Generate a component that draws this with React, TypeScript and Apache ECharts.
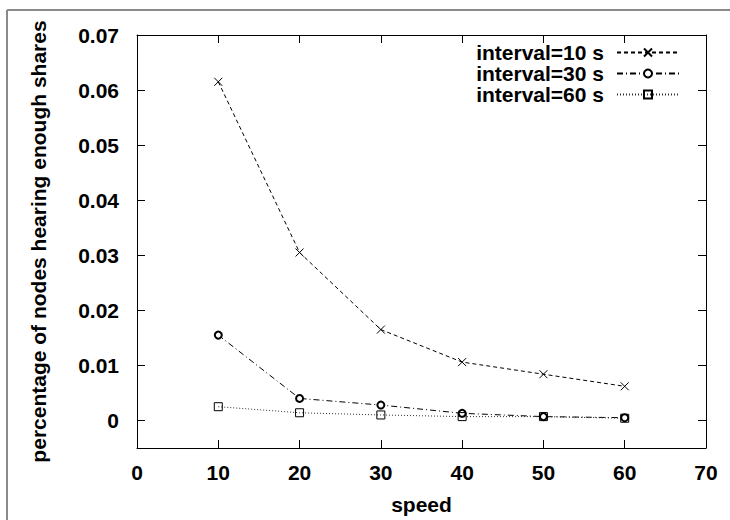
import React, { useEffect, useRef } from "react";
import * as echarts from "echarts";

const speeds = [10, 20, 30, 40, 50, 60];
const interval10 = [0.0615, 0.0305, 0.0165, 0.0106, 0.0084, 0.0062];
const interval30 = [0.0155, 0.004, 0.0028, 0.0013, 0.0007, 0.0005];
const interval60 = [0.0025, 0.0014, 0.001, 0.0007, 0.0007, 0.0004];
const seriesNames = ["interval=10 s", "interval=30 s", "interval=60 s"];
const yTickLabels = ["0", "0.01", "0.02", "0.03", "0.04", "0.05", "0.06", "0.07"];
const xTickLabels = ["0", "10", "20", "30", "40", "50", "60", "70"];

const FONT = "'Liberation Sans', Arial, Helvetica, sans-serif";

export default function App() {
  const ref = useRef<HTMLDivElement>(null);
  useEffect(() => {
    if (!ref.current) return;
    const chart = echarts.init(ref.current, undefined, { renderer: "svg" });
    const yVals = yTickLabels.map((s) => parseFloat(s));
    const xVals = xTickLabels.map((s) => parseFloat(s));
    const labelStyle = { fontFamily: FONT, fontWeight: "bold" as const, fontSize: 21, color: "#000" };
    const axisLine = { show: true, onZero: false, lineStyle: { color: "#000", width: 1 } };
    const tick = { show: true, inside: true, length: 8, lineStyle: { color: "#000", width: 1 } };
    const pair = (arr: number[]) => speeds.map((s, i) => [s, arr[i]]);
    chart.setOption({
      animation: false,
      backgroundColor: "#fff",
      grid: { left: 137, right: 24, top: 35, bottom: 66, containLabel: false },
      graphic: [
        { type: "line", shape: { x1: 7, y1: 10, x2: 730, y2: 10 }, style: { stroke: "#8a8a8a", lineWidth: 2 } },
        { type: "line", shape: { x1: 7, y1: 10, x2: 7, y2: 520 }, style: { stroke: "#8a8a8a", lineWidth: 2 } },
      ],
      legend: {
        orient: "vertical",
        right: 45,
        top: 37,
        align: "right",
        itemWidth: 62,
        itemHeight: 10,
        itemGap: 0,
        data: seriesNames,
        textStyle: { ...labelStyle, lineHeight: 19, padding: [0, 8, 0, 0] },
      },
      xAxis: [
        {
          type: "value",
          min: 0,
          max: 70,
          position: "bottom",
          axisLine,
          axisTick: { ...tick, customValues: xVals },
          axisLabel: { ...labelStyle, margin: 14, customValues: xVals, formatter: (v: number) => xTickLabels[xVals.indexOf(v)] ?? String(v) },
          splitLine: { show: false },
          name: "speed",
          nameLocation: "middle",
          nameGap: 46,
          nameTextStyle: labelStyle,
        },
        {
          type: "value",
          min: 0,
          max: 70,
          position: "top",
          axisLine,
          axisTick: { ...tick, customValues: xVals },
          axisLabel: { show: false },
          splitLine: { show: false },
        },
      ],
      yAxis: [
        {
          type: "value",
          min: -0.005,
          max: 0.07,
          position: "left",
          axisLine,
          axisTick: { ...tick, customValues: yVals },
          axisLabel: { ...labelStyle, margin: 18, customValues: yVals, formatter: (v: number) => yTickLabels[yVals.indexOf(v)] ?? String(v) },
          splitLine: { show: false },
          name: "percentage of nodes hearing enough shares",
          nameLocation: "middle",
          nameRotate: 90,
          nameGap: 88,
          nameTextStyle: labelStyle,
        },
        {
          type: "value",
          min: -0.005,
          max: 0.07,
          position: "right",
          axisLine,
          axisTick: { ...tick, customValues: yVals },
          axisLabel: { show: false },
          splitLine: { show: false },
        },
      ],
      series: [
        {
          name: seriesNames[0],
          type: "line",
          data: pair(interval10),
          symbol: "path://M0,0L10,10M10,0L0,10",
          symbolSize: 8,
          itemStyle: { color: "none", borderColor: "#000", borderWidth: 1 },
          lineStyle: { color: "#000", width: 1, type: [4, 3] },
        },
        {
          name: seriesNames[1],
          type: "line",
          data: pair(interval30),
          symbol: "emptyCircle",
          symbolSize: 7,
          itemStyle: { color: "#000", borderColor: "#000", borderWidth: 1 },
          lineStyle: { color: "#000", width: 1, type: [6, 3, 1, 3] },
        },
        {
          name: seriesNames[2],
          type: "line",
          data: pair(interval60),
          symbol: "path://M0,0H10V10H0Z",
          symbolSize: 8,
          itemStyle: { color: "none", borderColor: "#000", borderWidth: 1 },
          lineStyle: { color: "#333", width: 1, type: [1, 2] },
        },
      ],
    });
    return () => chart.dispose();
  }, []);
  return (
    <div style={{ position: "absolute", left: 0, top: 0, width: 730, height: 520, background: "#fff" }}>
      <div ref={ref} style={{ width: 730, height: 520 }} />
    </div>
  );
}
